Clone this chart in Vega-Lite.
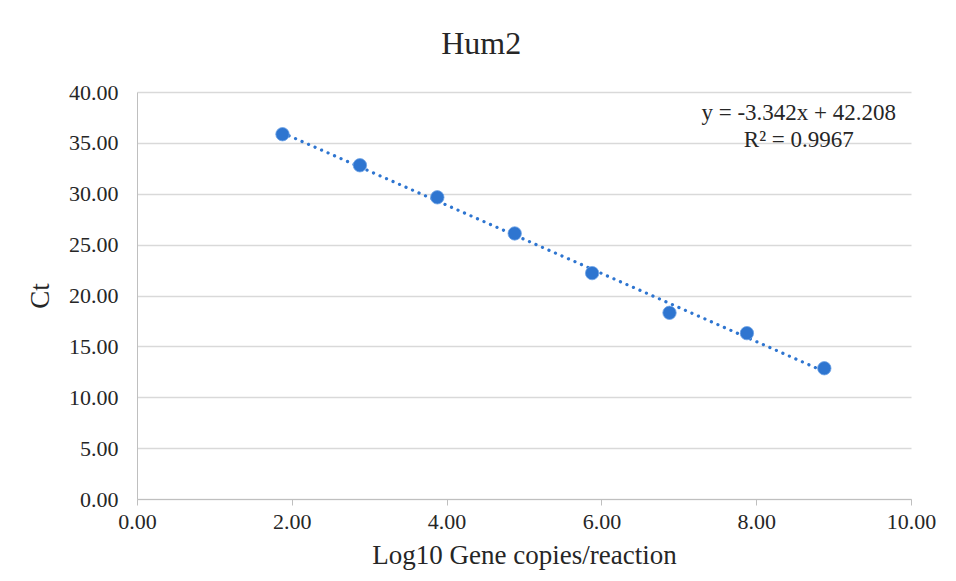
{
  "$schema": "https://vega.github.io/schema/vega-lite/v6.json",
  "width": 774,
  "height": 407,
  "autosize": {"type": "none"},
  "padding": {"left": 137, "top": 92, "right": 45, "bottom": 82},
  "background": "white",
  "config": {
    "font": "Liberation Serif",
    "view": {"stroke": null},
    "axis": {
      "labelFont": "Liberation Serif",
      "titleFont": "Liberation Serif",
      "labelColor": "#262626",
      "titleColor": "#262626",
      "labelFontSize": 22,
      "titleFontSize": 27,
      "titleFontWeight": "normal",
      "labelFlush": false,
      "labelOverlap": false,
      "domainColor": "#bfbfbf",
      "tickColor": "#bfbfbf",
      "gridColor": "#d9d9d9",
      "gridWidth": 1.3
    }
  },
  "title": {
    "text": "Hum2",
    "font": "Liberation Serif",
    "fontSize": 32,
    "fontWeight": "normal",
    "color": "#262626",
    "anchor": "middle",
    "frame": "bounds",
    "offset": 20
  },
  "data": {
    "values": [
      {"log10copies": 1.88, "ct": 35.85},
      {"log10copies": 2.88, "ct": 32.8},
      {"log10copies": 3.88, "ct": 29.65},
      {"log10copies": 4.88, "ct": 26.1},
      {"log10copies": 5.88, "ct": 22.2},
      {"log10copies": 6.88, "ct": 18.3},
      {"log10copies": 7.88, "ct": 16.3},
      {"log10copies": 8.88, "ct": 12.85}
    ]
  },
  "encoding": {
    "x": {
      "field": "log10copies",
      "type": "quantitative",
      "scale": {"domain": [0, 10], "nice": false},
      "axis": {
        "title": "Log10 Gene copies/reaction",
        "values": [0, 2, 4, 6, 8, 10],
        "format": ".2f",
        "grid": false,
        "tickSize": 6,
        "labelPadding": 6,
        "titlePadding": 10
      }
    },
    "y": {
      "field": "ct",
      "type": "quantitative",
      "scale": {"domain": [0, 40], "nice": false},
      "axis": {
        "title": "Ct",
        "values": [0, 5, 10, 15, 20, 25, 30, 35, 40],
        "format": ".2f",
        "ticks": false,
        "labelPadding": 19,
        "titlePadding": 14
      }
    }
  },
  "layer": [
    {
      "transform": [{"regression": "ct", "on": "log10copies"}],
      "mark": {
        "type": "line",
        "color": "#2e75d0",
        "strokeWidth": 3.2,
        "strokeDash": [0.1, 7],
        "strokeCap": "round"
      }
    },
    {
      "mark": {
        "type": "circle",
        "size": 180,
        "opacity": 1,
        "color": "#2e75d0",
        "stroke": "#6fa3e6",
        "strokeWidth": 0.8
      }
    },
    {
      "data": {
        "values": [
          {"lx": 8.55, "ly": 37.9, "label": "y = -3.342x + 42.208"},
          {"lx": 8.55, "ly": 35.3, "label": "R² = 0.9967"}
        ]
      },
      "mark": {
        "type": "text",
        "font": "Liberation Serif",
        "fontSize": 23,
        "color": "#262626",
        "align": "center",
        "baseline": "middle"
      },
      "encoding": {
        "x": {"field": "lx", "type": "quantitative"},
        "y": {"field": "ly", "type": "quantitative"},
        "text": {"field": "label"}
      }
    }
  ]
}
